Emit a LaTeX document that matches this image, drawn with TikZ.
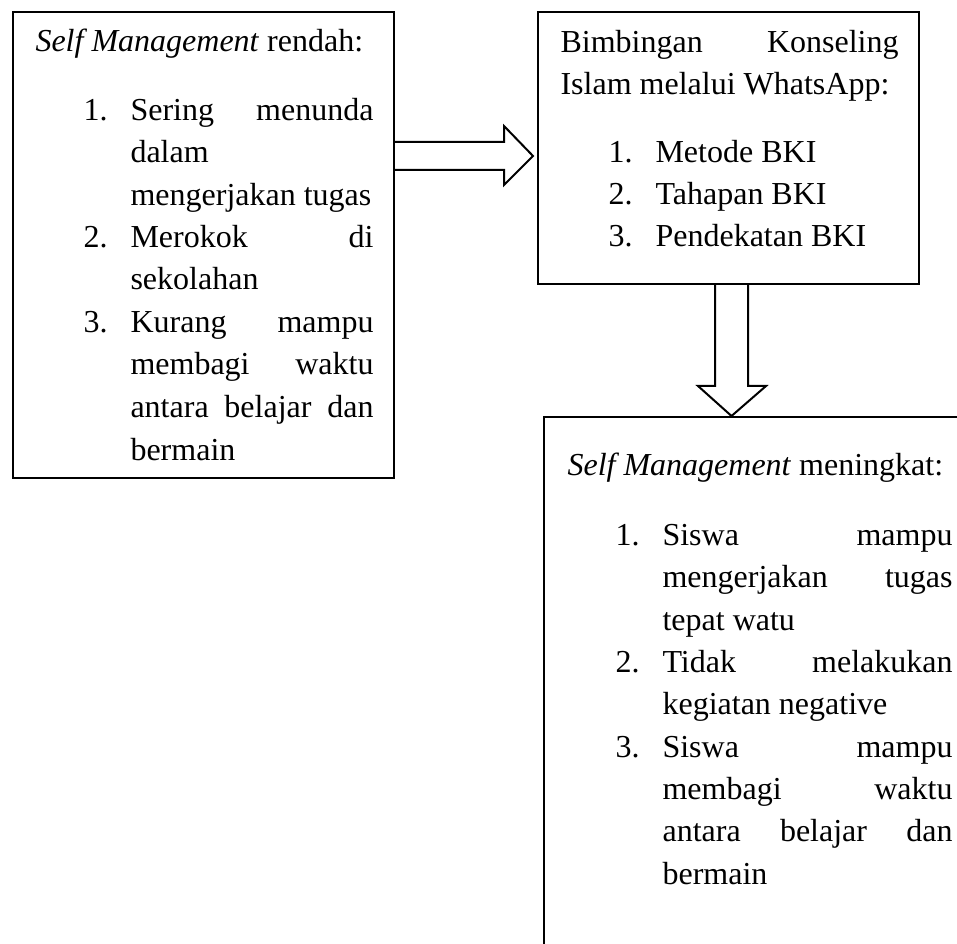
\documentclass[tikz,border=0pt]{standalone}
\usepackage{fontspec}
\setmainfont{Liberation Serif}
\usetikzlibrary{calc}
\newcommand\jline[2]{\makebox[#1][s]{#2}}
\begin{document}
\begin{tikzpicture}[x=0.375pt,y=-0.375pt,
  box/.style={draw, line width=0.75pt, inner sep=0pt},
  txt/.style={anchor=base west, inner sep=0pt, font=\fontsize{12}{14}\selectfont},
  blockarrow/.style={draw, line width=0.75pt, line join=miter}]
\useasboundingbox (0,0) rectangle (957,943);
\clip (0,0) rectangle (957,943);
% boxes
\node[box, minimum width=142.875pt, minimum height=174.75pt] (left) at (203.5,245) {};
\node[box, minimum width=142.875pt, minimum height=102pt] (rbox) at (728.5,148) {};
\node[box, minimum width=161.625pt, minimum height=205.5pt] (bottom) at (759.5,691) {};
% arrows
\coordinate (tipr) at ($(rbox.west |- 0,156)+(-4,0)$);
\draw[blockarrow] (left.east |- 0,142) -- (504,142) -- (504,126) -- (tipr) -- (504,185) -- (504,170) -- (left.east |- 0,170);
\draw[blockarrow] (rbox.south -| 715,0) -- (715,386) -- (698,386) -- (bottom.north -| 731.5,0) -- (766,386) -- (748,386) -- (rbox.south -| 748,0);
% left box text
\node[txt] (l0) at (35,52) {\textit{Self Management} rendah:};
\node[txt] (l1n) at (83,121) {1.};
\node[txt] (l1a) at (130,121) {\jline{91.125pt}{Sering menunda}};
\node[txt] (l1b) at (130,163) {dalam};
\node[txt] (l1c) at (130,206) {mengerjakan tugas};
\node[txt] (l2n) at (83,248) {2.};
\node[txt] (l2a) at (130,248) {\jline{91.125pt}{Merokok di}};
\node[txt] (l2b) at (130,290) {sekolahan};
\node[txt] (l3n) at (83,333) {3.};
\node[txt] (l3a) at (130,333) {\jline{91.125pt}{Kurang mampu}};
\node[txt] (l3b) at (130,375) {\jline{91.125pt}{membagi waktu}};
\node[txt] (l3c) at (130,417) {\jline{91.125pt}{antara belajar dan}};
\node[txt] (l3d) at (130,460) {bermain};
% right box text
\node[txt] (r0) at (560,53) {\jline{126.75pt}{Bimbingan Konseling}};
\node[txt] (r0b) at (560,95) {Islam melalui WhatsApp:};
\node[txt] (r1n) at (608,163) {1.};
\node[txt] (r1a) at (655,163) {Metode BKI};
\node[txt] (r2n) at (608,205) {2.};
\node[txt] (r2a) at (655,205) {Tahapan BKI};
\node[txt] (r3n) at (608,247) {3.};
\node[txt] (r3a) at (655,247) {Pendekatan BKI};
% bottom box text
\node[txt] (b0) at (567,476) {\textit{Self Management} meningkat:};
\node[txt] (b1n) at (615,545) {1.};
\node[txt] (b1a) at (662,545) {\jline{108.75pt}{Siswa mampu}};
\node[txt] (b1b) at (662,587) {\jline{108.75pt}{mengerjakan tugas}};
\node[txt] (b1c) at (662,630) {tepat watu};
\node[txt] (b2n) at (615,672) {2.};
\node[txt] (b2a) at (662,672) {\jline{108.75pt}{Tidak melakukan}};
\node[txt] (b2b) at (662,714) {kegiatan negative};
\node[txt] (b3n) at (615,757) {3.};
\node[txt] (b3a) at (662,757) {\jline{108.75pt}{Siswa mampu}};
\node[txt] (b3b) at (662,799) {\jline{108.75pt}{membagi waktu}};
\node[txt] (b3c) at (662,841) {\jline{108.75pt}{antara belajar dan}};
\node[txt] (b3d) at (662,884) {bermain};
\end{tikzpicture}
\end{document}
